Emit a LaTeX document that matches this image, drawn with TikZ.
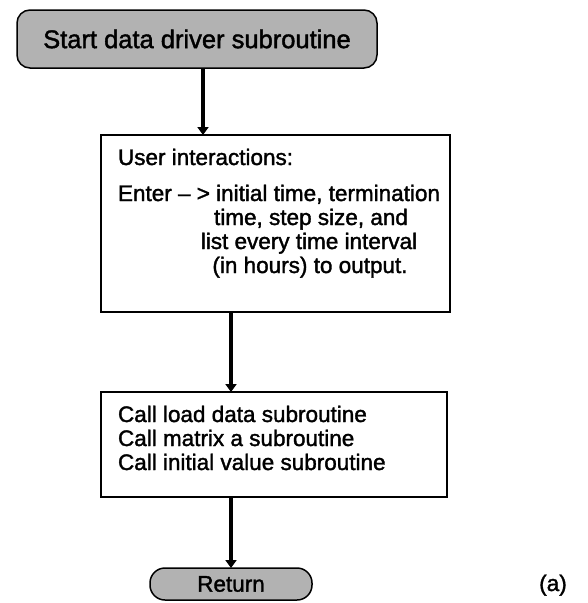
\documentclass[tikz,border=0pt]{standalone}
\usepackage{fontspec}
\setmainfont{Liberation Sans}
\newfontfamily\heavysans{Liberation Sans}[FakeBold=1.6]
\usetikzlibrary{arrows.meta}
\begin{document}
\begin{tikzpicture}[x=1pt,y=-1pt,
  every node/.style={inner sep=0pt, outer sep=0pt, font=\heavysans\fontsize{22.5}{24}\selectfont},
  terminal/.style={draw, line width=1.5pt, fill=black!30, rounded corners=13pt},
  procbox/.style={draw, line width=1.3pt, fill=white},
  txt/.style={anchor=base west},
  ctxt/.style={anchor=base},
  flow/.style={line width=4.2pt, -{Triangle[width=11pt,length=8pt]}}
]
\useasboundingbox (0,0) rectangle (587,603);

% terminals
\node[terminal, minimum width=360pt, minimum height=58pt,
      font=\heavysans\fontsize{25.5}{26}\selectfont] (start) at (197,39) {Start data driver subroutine};
\node[terminal, minimum width=162pt, minimum height=32pt, rounded corners=15pt] (ret) at (231,584) {Return};

% process boxes
\node[procbox, minimum width=349pt, minimum height=177pt] (ui) at (275.5,223.5) {};
\node[procbox, minimum width=346pt, minimum height=105pt] (calls) at (274,444.5) {};

% text of the user-interaction box
\node[txt] (t1) at (118,165) {User interactions:};
\node[txt] (t2) at (118,201) {Enter – > initial time, termination};
\node[ctxt] (t3) at (311,225) {time, step size, and};
\node[ctxt] (t4) at (309,249) {list every time interval};
\node[ctxt] (t5) at (310,273) {(in hours) to output.};

% text of the call box
\node[txt] (c1) at (118,422) {Call load data subroutine};
\node[txt] (c2) at (118,446) {Call matrix a subroutine};
\node[txt] (c3) at (118,470) {Call initial value subroutine};

% panel label
\node[ctxt] (lbl) at (553,591) {(a)};

% flow lines
\coordinate (x1) at (203,0);
\coordinate (x2) at (231,0);
\draw[flow] (start.south -| x1) -- (ui.north -| x1);
\draw[flow] (ui.south -| x2) -- (calls.north -| x2);
\draw[flow] (calls.south -| x2) -- (ret.north -| x2);
\end{tikzpicture}
\end{document}
